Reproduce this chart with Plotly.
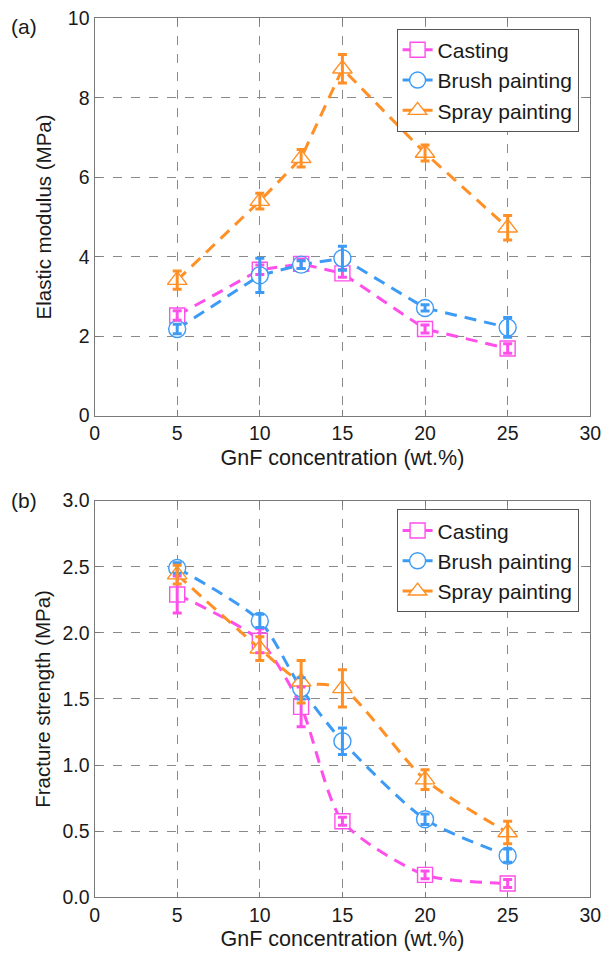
import plotly.graph_objects as go

x_vals = [5, 10, 12.5, 15, 20, 25]
series_names = ["Casting", "Brush painting", "Spray painting"]

# (a) Elastic modulus (MPa)
mod_casting = [2.52, 3.67, 3.82, 3.58, 2.18, 1.69]
mod_casting_err = [0.12, 0.12, 0.12, 0.1, 0.1, 0.12]
mod_brush = [2.18, 3.53, 3.8, 3.96, 2.71, 2.22]
mod_brush_err = [0.12, 0.43, 0.1, 0.3, 0.08, 0.25]
mod_spray = [3.41, 5.4, 6.48, 8.73, 6.61, 4.73]
mod_spray_err = [0.23, 0.2, 0.22, 0.36, 0.2, 0.31]

# (b) Fracture strength (MPa)
fs_casting = [2.29, 1.94, 1.44, 0.575, 0.17, 0.105]
fs_casting_err = [0.14, 0.09, 0.15, 0.03, 0.03, 0.03]
fs_brush = [2.49, 2.09, 1.58, 1.18, 0.59, 0.315]
fs_brush_err = [0.04, 0.05, 0.08, 0.1, 0.04, 0.05]
fs_spray = [2.44, 1.88, 1.63, 1.58, 0.89, 0.49]
fs_spray_err = [0.07, 0.09, 0.16, 0.14, 0.075, 0.085]

colors = ["#FF4FEA", "#3D9BF5", "#FF9026"]
symbols = ["square", "circle", "triangle-up"]
msizes = [15, 17, 17]

FONT = "Liberation Sans, Arial, sans-serif"
TXT = "#1a1a1a"

fig = go.Figure()

panels = [
    ([mod_casting, mod_brush, mod_spray], [mod_casting_err, mod_brush_err, mod_spray_err], "x", "y", "legend", "linear"),
    ([fs_casting, fs_brush, fs_spray], [fs_casting_err, fs_brush_err, fs_spray_err], "x2", "y2", "legend2", "spline"),
]

for ys, errs, xa, ya, lg, shape in panels:
    for name, y, e, c, s, ms in zip(series_names, ys, errs, colors, symbols, msizes):
        fig.add_trace(go.Scatter(
            x=x_vals, y=y, name=name, xaxis=xa, yaxis=ya, legend=lg,
            mode="lines+markers",
            line=dict(color=c, width=3, dash="12px,8px", shape=shape, smoothing=0.7),
            marker=dict(symbol=s, size=ms, color="white", line=dict(color=c, width=1.4)),
        ))
    for name, y, e, c in zip(series_names, ys, errs, colors):
        fig.add_trace(go.Scatter(
            x=x_vals, y=y, xaxis=xa, yaxis=ya, showlegend=False, hoverinfo="skip",
            mode="markers", marker=dict(size=1, color=c, opacity=0),
            error_y=dict(type="data", array=e, visible=True, color=c, thickness=3, width=4.5),
        ))

axis_common = dict(
    showgrid=True, gridcolor="#8a8a8a", griddash="dash", gridwidth=1,
    showline=True, linecolor="#7a7a7a", linewidth=1.3, mirror="ticks",
    ticks="inside", ticklen=5, tickcolor="#7a7a7a",
    zeroline=False,
    tickfont=dict(family=FONT, size=19.5, color=TXT),
)
xtitle_font = dict(family=FONT, size=21.5, color=TXT)
ytitle_font = dict(family=FONT, size=20.5, color=TXT)

xa = dict(axis_common, range=[0, 30], tickvals=[0, 5, 10, 15, 20, 25, 30],
          title=dict(text="GnF concentration (wt.%)", font=xtitle_font, standoff=6))

legend_common = dict(xanchor="right", yanchor="top", bgcolor="white",
                     bordercolor="#555555", borderwidth=1,
                     font=dict(family=FONT, size=21, color=TXT),
                     itemwidth=30, tracegroupgap=0)

fig.update_layout(
    width=612, height=964,
    margin=dict(l=0, r=0, t=0, b=0),
    paper_bgcolor="white", plot_bgcolor="white",
    xaxis=dict(xa, domain=[0.1503, 0.982], anchor="y"),
    yaxis=dict(axis_common, domain=[0.5705, 0.9922], anchor="x", range=[0, 10], tickvals=[0, 2, 4, 6, 8, 10],
               title=dict(text="Elastic modulus (MPa)", font=ytitle_font, standoff=10)),
    xaxis2=dict(xa, domain=[0.1503, 0.982], anchor="y2"),
    yaxis2=dict(axis_common, domain=[0.0591, 0.4803], anchor="x2", range=[0, 3], tickvals=[0, 0.5, 1, 1.5, 2, 2.5, 3],
                tickformat=".1f",
                title=dict(text="Fracture strength (MPa)", font=ytitle_font, standoff=6)),
    legend=dict(legend_common, x=0.9624, y=0.9813),
    legend2=dict(legend_common, x=0.9624, y=0.471),
    annotations=[
        dict(text="(a)", x=0.006, y=0.9975, xref="paper", yref="paper", xanchor="left", yanchor="top",
             showarrow=False, font=dict(family=FONT, size=21, color=TXT)),
        dict(text="(b)", x=0.006, y=0.4945, xref="paper", yref="paper", xanchor="left", yanchor="top",
             showarrow=False, font=dict(family=FONT, size=21, color=TXT)),
    ],
)

fig.write_html("out.html")
